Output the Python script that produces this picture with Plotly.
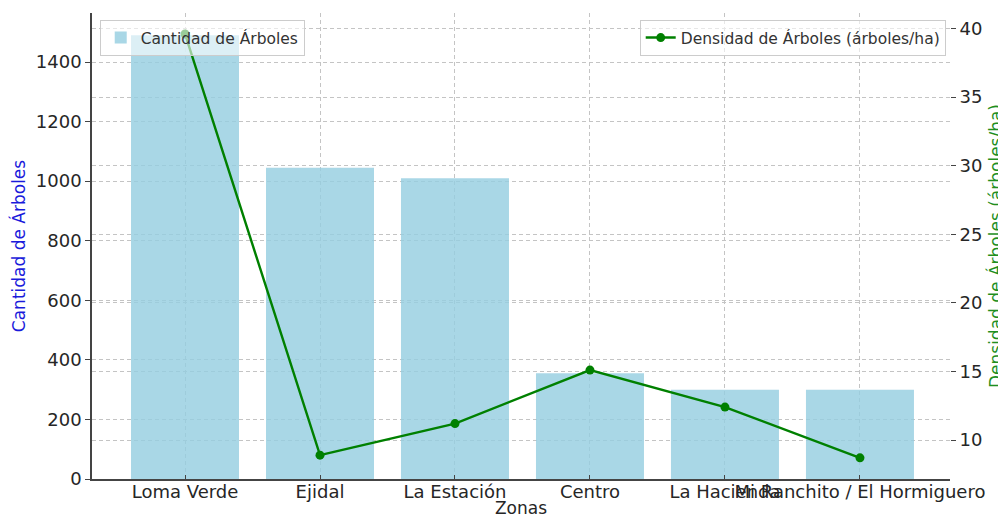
import plotly.graph_objects as go

zonas = ["Loma Verde", "Ejidal", "La Estación", "Centro", "La Hacienda", "Mi Ranchito / El Hormiguero"]
cantidad = [1490, 1045, 1010, 355, 300, 300]
densidad = [39.6, 8.9, 11.2, 15.1, 12.4, 8.7]

font = "DejaVu Sans"
grid = "#c4c4c4"
ink = "#262626"

bars = go.Bar(
    x=zonas, y=cantidad, name="Cantidad de Árboles", width=0.8,
    marker=dict(color="rgba(150,206,224,0.82)", line=dict(width=0)),
    legend="legend",
)
line = go.Scatter(
    x=zonas, y=densidad, name="Densidad de Árboles (árboles/ha)", yaxis="y2",
    mode="lines+markers", line=dict(color="#008000", width=2.4),
    marker=dict(color="#008000", size=9), legend="legend2",
)

fig = go.Figure([bars, line])

legend_style = dict(
    bgcolor="rgba(255,255,255,0.6)", bordercolor="#cccccc", borderwidth=1,
    font=dict(family=font, size=15.5, color="#333333"), yanchor="top", y=0.985,
)

# the page body adds an 8px offset, so the figure is 8px smaller than the window
fig.update_layout(
    width=998, height=510,
    margin=dict(l=84, r=56, t=5, b=39),
    plot_bgcolor="white", paper_bgcolor="white",
    font=dict(family=font, color=ink),
    showlegend=True,
    legend=dict(x=0.009, xanchor="left", **legend_style),
    legend2=dict(x=0.995, xanchor="right", **legend_style),
    xaxis=dict(
        type="category", categoryorder="array", categoryarray=zonas,
        range=[-0.689, 5.667], tickangle=0, automargin=False,
        showgrid=True, gridcolor=grid, griddash="4px,3px", gridwidth=0.8,
        showline=True, linecolor="#444444", linewidth=1.5,
        ticks="inside", ticklen=4, tickcolor="#444444", ticklabelstandoff=-4,
        tickfont=dict(size=18, color=ink),
        title=dict(text="Zonas", font=dict(size=17, color=ink), standoff=12),
    ),
    yaxis=dict(
        range=[0, 1564.5], dtick=200, tick0=0, automargin=False,
        showgrid=True, gridcolor=grid, griddash="4px,3px", gridwidth=0.8,
        showline=True, linecolor="#444444", linewidth=1.5, zeroline=False,
        ticks="outside", ticklen=5, tickcolor="#444444",
        tickfont=dict(size=18, color=ink),
        title=dict(text="Cantidad de Árboles", font=dict(size=17, color="#1a1adb"), standoff=9),
    ),
    yaxis2=dict(
        overlaying="y", side="right", anchor="x",
        range=[7.16, 41.13], dtick=5, tick0=0, automargin=False,
        showgrid=True, gridcolor=grid, griddash="4px,3px", gridwidth=0.8,
        showline=False, zeroline=False,
        ticks="outside", ticklen=5, tickcolor="#444444",
        tickfont=dict(size=18, color=ink),
        title=dict(text="Densidad de Árboles (árboles/ha)", font=dict(size=17, color="#1f8f1f"), standoff=10),
    ),
)

fig.write_html("out.html")
